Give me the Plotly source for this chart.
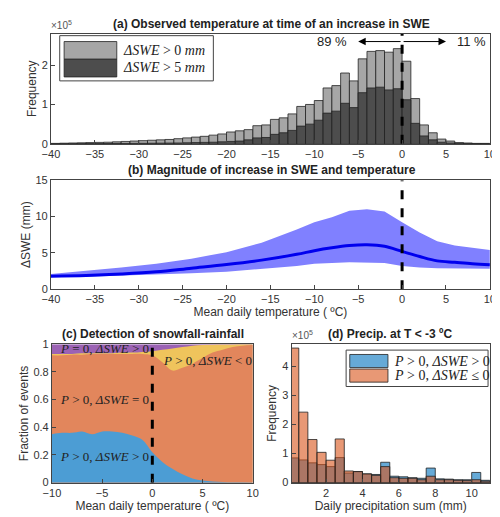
import plotly.graph_objects as go

# Panel a: histogram counts (x1e5), bins of 1 degC from -40 to 10
bin_left_a = list(range(-40, 10))
swe_gt0 = [0.01,0.015,0.02,0.025,0.03,0.035,0.04,0.05,0.06,0.07,
           0.08,0.09,0.1,0.11,0.13,0.15,0.17,0.19,0.22,0.25,
           0.3,0.33,0.36,0.46,0.48,0.62,0.66,0.76,0.95,1.0,
           1.1,1.42,1.48,1.8,1.6,2.16,2.35,2.37,2.33,2.42,
           2.1,1.15,0.48,0.28,0.12,0.07,0.03,0.02,0.01,0.01]
swe_gt5 = [0.002,0.002,0.003,0.004,0.005,0.006,0.007,0.008,0.009,0.01,
           0.012,0.014,0.016,0.018,0.02,0.025,0.03,0.035,0.04,0.05,
           0.06,0.07,0.1,0.15,0.16,0.24,0.28,0.34,0.45,0.5,
           0.6,0.78,0.83,1.03,0.92,1.3,1.42,1.44,1.37,1.4,
           1.12,0.52,0.2,0.1,0.04,0.02,0.01,0.005,0.005,0.005]

# Panel b
temp_b = [-40,-36,-32,-28,-24,-20,-16,-12,-10,-8,-6,-4,-2,0,2,4,6,8,10]
med_b = [1.8,1.9,2.1,2.4,2.9,3.4,4.0,4.8,5.3,5.7,6.0,6.1,5.9,5.2,4.5,3.9,3.7,3.5,3.35]
up_b = [2.1,2.5,3.0,3.5,4.2,5.1,6.4,8.2,9.2,9.9,10.8,11.0,10.7,9.2,7.8,6.6,6.0,5.7,5.4]
lo_b = [1.7,1.7,1.8,2.0,2.2,2.4,2.8,3.2,3.5,3.6,3.7,3.7,3.6,3.2,3.0,2.9,2.8,2.8,2.8]

# Panel c: cumulative fractions
temp_c = list(range(-10, 11))
frac_pos = [0.35,0.36,0.36,0.37,0.35,0.37,0.37,0.36,0.34,0.31,0.22,0.15,0.10,0.06,0.03,0.015,0.008,0.005,0.003,0.002,0.001]
top_zero = [0.92,0.92,0.925,0.925,0.93,0.93,0.93,0.93,0.93,0.93,0.92,0.87,0.81,0.83,0.86,0.90,0.94,0.96,0.98,0.99,0.995]
top_neg = [0.93,0.93,0.93,0.935,0.935,0.935,0.935,0.94,0.94,0.945,0.95,0.96,0.97,0.98,0.99,0.995,0.997,0.998,0.999,1.0,1.0]

# Panel d: histogram (x1e5), bins of 0.5 mm
bin_left_d = [i*0.5 for i in range(22)]
p_pos = [0.85,0.78,0.68,0.62,0.55,0.86,0.33,0.38,0.3,0.28,0.7,0.22,0.2,0.17,0.15,0.5,0.13,0.12,0.1,0.1,0.35,0.08]
p_neg = [4.62,2.42,1.48,1.04,0.77,1.5,0.4,0.38,0.3,0.25,0.55,0.17,0.15,0.15,0.1,0.22,0.1,0.1,0.08,0.07,0.1,0.05]

fig = go.Figure()
# a
ctr_a = [b+0.5 for b in bin_left_a]
fig.add_bar(x=ctr_a, y=swe_gt0, width=1, marker=dict(color="#a6a6a6", line=dict(color="#222", width=0.8)), xaxis="x", yaxis="y", showlegend=False)
fig.add_bar(x=ctr_a, y=swe_gt5, width=1, marker=dict(color="#4d4d4d", line=dict(color="#222", width=0.8)), xaxis="x", yaxis="y", showlegend=False)
fig.add_scatter(x=[0,0], y=[0,2.8], mode="lines", line=dict(color="black", width=3, dash="dash"), xaxis="x", yaxis="y", showlegend=False)
# b
fig.add_scatter(x=temp_b+temp_b[::-1], y=up_b+lo_b[::-1], fill="toself", fillcolor="#8080ff", line=dict(width=0), mode="lines", xaxis="x2", yaxis="y2", showlegend=False)
fig.add_scatter(x=temp_b, y=med_b, mode="lines", line=dict(color="#0000ee", width=3, shape="spline"), xaxis="x2", yaxis="y2", showlegend=False)
fig.add_scatter(x=[0,0], y=[0,15], mode="lines", line=dict(color="black", width=3, dash="dash"), xaxis="x2", yaxis="y2", showlegend=False)
# c
ones = [1.0]*len(temp_c)
for ys, col in [(ones, "#9b62b4"), (top_neg, "#efc45c"), (top_zero, "#e2865c"), (frac_pos, "#4c9dd4")]:
    fig.add_scatter(x=temp_c, y=ys, fill="tozeroy", fillcolor=col, mode="lines", line=dict(width=0, shape="spline"), xaxis="x3", yaxis="y3", showlegend=False)
fig.add_scatter(x=[0,0], y=[0,1], mode="lines", line=dict(color="black", width=3, dash="dash"), xaxis="x3", yaxis="y3", showlegend=False)
# d
ctr_d = [b+0.25 for b in bin_left_d]
fig.add_bar(x=ctr_d, y=p_pos, width=0.5, marker=dict(color="rgba(0,114,189,0.6)", line=dict(color="#222", width=0.8)), xaxis="x4", yaxis="y4", showlegend=False)
fig.add_bar(x=ctr_d, y=p_neg, width=0.5, marker=dict(color="rgba(217,83,25,0.6)", line=dict(color="#222", width=0.8)), xaxis="x4", yaxis="y4", showlegend=False)

ax = dict(showline=True, mirror=True, linecolor="#444", linewidth=1, ticks="inside", ticklen=4, tickcolor="#444",
          showgrid=False, zeroline=False, tickfont=dict(size=11, color="#333"))
F = "Liberation Sans"
fig.update_layout(
    width=500, height=517, margin=dict(l=0, r=0, t=0, b=0), plot_bgcolor="white", paper_bgcolor="white",
    barmode="overlay", font=dict(family=F, color="#333"),
    xaxis=dict(ax, domain=[0.07, 0.975], anchor="y", range=[-40, 10], dtick=5),
    yaxis=dict(ax, domain=[0.743, 0.961], anchor="x", range=[0, 2.8], tickvals=[0, 1, 2],
               title=dict(text="Frequency", font=dict(size=12), standoff=2)),
    xaxis2=dict(ax, domain=[0.07, 0.975], anchor="y2", range=[-40, 10], dtick=5,
                title=dict(text="Mean daily temperature ( ºC)", font=dict(size=12), standoff=3)),
    yaxis2=dict(ax, domain=[0.455, 0.671], anchor="x2", range=[0, 15], dtick=5,
                title=dict(text="ΔSWE (mm)", font=dict(size=12), standoff=2)),
    xaxis3=dict(ax, domain=[0.072, 0.486], anchor="y3", range=[-10, 10], dtick=5,
                title=dict(text="Mean daily temperature ( ºC)", font=dict(size=12), standoff=3)),
    yaxis3=dict(ax, domain=[0.072, 0.346], anchor="x3", range=[0, 1], dtick=0.2,
                title=dict(text="Fraction of events", font=dict(size=12), standoff=2)),
    xaxis4=dict(ax, domain=[0.566, 0.975], anchor="y4", range=[0.1, 11], tickvals=[2, 4, 6, 8, 10],
                title=dict(text="Daily precipitation sum (mm)", font=dict(size=12), standoff=3)),
    yaxis4=dict(ax, domain=[0.072, 0.346], anchor="x4", range=[0, 4.75], dtick=1,
                title=dict(text="Frequency", font=dict(size=12), standoff=2)),
)
S = "Liberation Serif"
def ann(x, y, t, xr="paper", yr="paper", size=12, fam=F, **kw):
    kw.setdefault("xanchor", "center")
    fig.add_annotation(x=x, y=y, xref=xr, yref=yr, text=t, showarrow=False, font=dict(size=size, family=fam, color=kw.pop("color", "#222")), **kw)

ann(0.525, 0.963, "<b>(a) Observed temperature at time of an increase in SWE</b>", yanchor="bottom")
ann(0.525, 0.673, "<b>(b) Magnitude of increase in SWE and temperature</b>", yanchor="bottom")
ann(0.28, 0.348, "<b>(c) Detection of snowfall-rainfall</b>", yanchor="bottom")
ann(0.77, 0.348, "<b>(d) Precip. at T &lt; -3 ºC</b>", yanchor="bottom")
ann(0.065, 0.963, "×10<sup>5</sup>", size=10, xanchor="left", yanchor="bottom", color="#555")
ann(0.562, 0.348, "×10<sup>5</sup>", size=10, xanchor="left", yanchor="bottom", color="#555")
# arrows panel a
fig.add_annotation(x=-5, y=2.6, ax=0, ay=2.6, xref="x", yref="y", axref="x", ayref="y", showarrow=True, arrowhead=2, arrowsize=1.5, arrowwidth=1, arrowcolor="black", text="")
fig.add_annotation(x=5, y=2.6, ax=0, ay=2.6, xref="x", yref="y", axref="x", ayref="y", showarrow=True, arrowhead=2, arrowsize=1.5, arrowwidth=1, arrowcolor="black", text="")
ann(-6, 2.6, "89 %", "x", "y", size=13, xanchor="right")
ann(6, 2.6, "11 %", "x", "y", size=13, xanchor="left")
# legend a
fig.add_shape(type="rect", xref="x", yref="y", x0=-39, x1=-21.5, y0=1.6, y1=2.75, fillcolor="white", line=dict(color="#444", width=1))
fig.add_shape(type="rect", xref="x", yref="y", x0=-38.5, x1=-32.5, y0=2.15, y1=2.6, fillcolor="#a6a6a6", line=dict(color="#222", width=0.8))
fig.add_shape(type="rect", xref="x", yref="y", x0=-38.5, x1=-32.5, y0=1.7, y1=2.15, fillcolor="#4d4d4d", line=dict(color="#222", width=0.8))
ann(-32, 2.38, "<i>ΔSWE</i> &gt; 0 <i>mm</i>", "x", "y", size=14, fam=S, xanchor="left")
ann(-32, 1.93, "<i>ΔSWE</i> &gt; 5 <i>mm</i>", "x", "y", size=14, fam=S, xanchor="left")
# legend d
fig.add_shape(type="rect", xref="x4", yref="y4", x0=3.1, x1=10.9, y0=3.3, y1=4.55, fillcolor="white", line=dict(color="#444", width=1))
fig.add_shape(type="rect", xref="x4", yref="y4", x0=3.3, x1=5.4, y0=3.95, y1=4.4, fillcolor="rgba(0,114,189,0.6)", line=dict(color="#222", width=0.8))
fig.add_shape(type="rect", xref="x4", yref="y4", x0=3.3, x1=5.4, y0=3.45, y1=3.9, fillcolor="rgba(217,83,25,0.6)", line=dict(color="#222", width=0.8))
ann(5.6, 4.17, "<i>P</i> &gt; 0, <i>ΔSWE</i> &gt; 0", "x4", "y4", size=14, fam=S, xanchor="left")
ann(5.6, 3.67, "<i>P</i> &gt; 0, <i>ΔSWE</i> ≤ 0", "x4", "y4", size=14, fam=S, xanchor="left")
# labels c
ann(-9.4, 0.97, "<i>P</i> = 0, <i>ΔSWE</i> &gt; 0", "x3", "y3", size=13, fam=S, xanchor="left")
ann(0.9, 0.88, "<i>P</i> &gt; 0, <i>ΔSWE</i> &lt; 0", "x3", "y3", size=13, fam=S, xanchor="left")
ann(-9.4, 0.6, "<i>P</i> &gt; 0, <i>ΔSWE</i> = 0", "x3", "y3", size=13, fam=S, xanchor="left")
ann(-9.4, 0.19, "<i>P</i> &gt; 0, <i>ΔSWE</i> &gt; 0", "x3", "y3", size=13, fam=S, xanchor="left")

fig.write_html("out.html")
